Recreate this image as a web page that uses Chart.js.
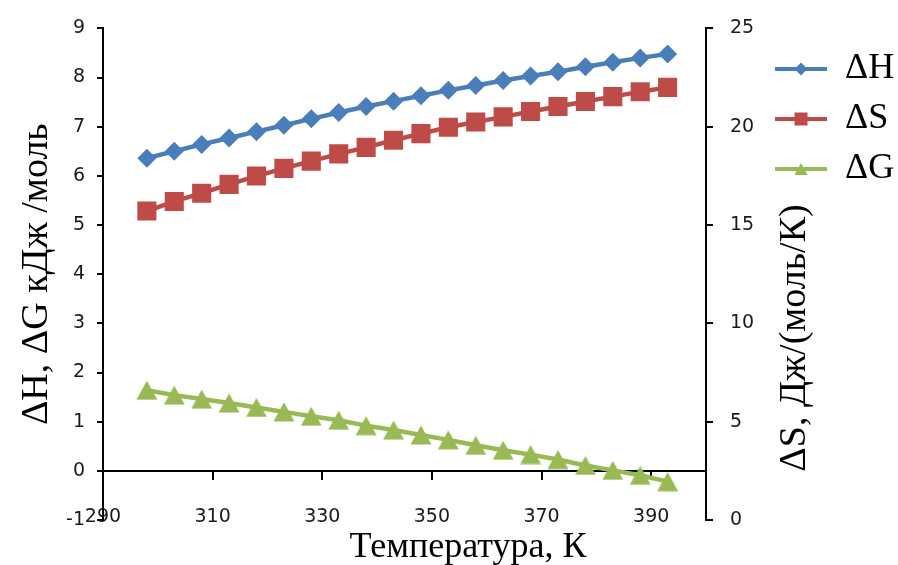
<!DOCTYPE html>
<html>
<head>
<meta charset="utf-8">
<script src="https://cdn.jsdelivr.net/npm/chart.js@4/dist/chart.umd.min.js"></script>
<style>
  html, body { margin: 0; padding: 0; background: #ffffff; }
  #wrap { width: 898px; height: 565px; }
</style>
</head>
<body>
<div id="wrap"><canvas id="c" width="898" height="565"></canvas></div>
<script>
// Temperature, K
const temperatures = [298, 303, 308, 313, 318, 323, 328, 333, 338, 343,
                      348, 353, 358, 363, 368, 373, 378, 383, 388, 393];
// Enthalpy change, kJ/mol (left axis)
const deltaH = [6.36, 6.50, 6.64, 6.77, 6.90, 7.03, 7.16, 7.29, 7.41, 7.52,
                7.63, 7.74, 7.84, 7.94, 8.03, 8.12, 8.22, 8.31, 8.40, 8.48];
// Entropy change, J/(mol K) (right axis)
const deltaS = [15.71, 16.20, 16.62, 17.07, 17.49, 17.88, 18.25, 18.62, 18.95, 19.31,
                19.65, 19.97, 20.24, 20.50, 20.77, 21.03, 21.28, 21.53, 21.78, 22.00];
// Gibbs energy change, kJ/mol (left axis)
const deltaG = [1.64, 1.54, 1.46, 1.38, 1.29, 1.20, 1.11, 1.03, 0.92, 0.83,
                0.73, 0.63, 0.52, 0.42, 0.33, 0.23, 0.11, 0.01, -0.09, -0.22];
const xTickValues = [290, 310, 330, 350, 370, 390];
const seriesNames = ['ΔH', 'ΔS', 'ΔG'];
const xTitle = 'Температура, К';
const yTitle = 'ΔH, ΔG кДж /моль';
const y2Title = 'ΔS, Дж/(моль/К)';

const BLUE = '#4A7EBB', RED = '#BE4B48', GREEN = '#98B954';
const SERIF = "'Liberation Serif', 'Times New Roman', serif";
const SANS = "'DejaVu Sans', Verdana, sans-serif";

function makeCanvas(w, h, draw) {
  const c = document.createElement('canvas');
  c.width = w; c.height = h;
  draw(c.getContext('2d'), w, h);
  return c;
}
function marker(g, kind, cx, cy, s, color) {
  g.fillStyle = color;
  g.beginPath();
  if (kind === 'diamond') {
    g.moveTo(cx, cy - s); g.lineTo(cx + s, cy); g.lineTo(cx, cy + s); g.lineTo(cx - s, cy);
  } else if (kind === 'square') {
    g.rect(cx - s, cy - s, 2 * s, 2 * s);
  } else {
    g.moveTo(cx, cy - s); g.lineTo(cx + s * 1.1, cy + s); g.lineTo(cx - s * 1.1, cy + s);
  }
  g.closePath();
  g.fill();
}
// triangle marker centred on its bounding box
const triangleMark = makeCanvas(22, 20, g => marker(g, 'triangle', 11, 10, 9.5, GREEN));

// legend swatches: line segment with the series marker in the middle
function legendIcon(kind, color, s) {
  return makeCanvas(52, 24, (g, w, h) => {
    g.strokeStyle = color; g.lineWidth = 4;
    g.beginPath(); g.moveTo(0, h / 2); g.lineTo(w, h / 2); g.stroke();
    marker(g, kind, w / 2, h / 2, s, color);
  });
}
const legendIcons = [legendIcon('diamond', BLUE, 6.5), legendIcon('square', RED, 6.5), legendIcon('triangle', GREEN, 6)];

const toPoints = arr => temperatures.map((t, i) => ({ x: t, y: arr[i] }));

const tickFont = { family: SANS, size: 19 };
const tickColor = '#1a1a1a';

const axisTitles = {
  id: 'axisTitles',
  afterDraw(chart) {
    const g = chart.ctx;
    g.save();
    g.fillStyle = '#000';
    g.textAlign = 'center';
    g.textBaseline = 'middle';
    g.font = '36px ' + SERIF;
    g.fillText(xTitle, 468, 548);
    g.font = '38px ' + SERIF;
    g.translate(795, 338);
    g.rotate(-Math.PI / 2);
    g.fillText(y2Title, 0, 0);
    g.restore();
  }
};

new Chart(document.getElementById('c'), {
  type: 'line',
  data: {
    datasets: [
      { label: seriesNames[0], data: toPoints(deltaH), yAxisID: 'y',
        borderColor: BLUE, backgroundColor: BLUE, borderWidth: 4.5,
        pointStyle: 'rectRot', pointRadius: 9.5, pointBackgroundColor: BLUE, pointBorderWidth: 0 },
      { label: seriesNames[1], data: toPoints(deltaS), yAxisID: 'y2',
        borderColor: RED, backgroundColor: RED, borderWidth: 4.5,
        pointStyle: 'rect', pointRadius: 13.5, pointBackgroundColor: RED, pointBorderWidth: 0 },
      { label: seriesNames[2], data: toPoints(deltaG), yAxisID: 'y',
        borderColor: GREEN, backgroundColor: GREEN, borderWidth: 4.5,
        pointStyle: triangleMark, pointRadius: 10, pointBackgroundColor: GREEN, pointBorderWidth: 0 }
    ]
  },
  options: {
    responsive: false,
    animation: false,
    events: [],
    layout: { padding: { top: 25, bottom: 45, left: 0, right: 0 } },
    elements: { line: { tension: 0 } },
    scales: {
      x: {
        type: 'linear', position: { y: 0 }, min: 290, max: 400,
        afterBuildTicks: s => { s.ticks = xTickValues.map(v => ({ value: v })); },
        grid: { display: true, drawOnChartArea: false, drawTicks: true, tickLength: 8, color: '#000', lineWidth: 2 },
        border: { display: true, color: '#000', width: 2 },
        ticks: { padding: 27, font: tickFont, color: tickColor, maxRotation: 0, autoSkip: false }
      },
      y: {
        position: 'left', min: -1, max: 9,
        ticks: { stepSize: 1, padding: 12, font: tickFont, color: tickColor },
        grid: { display: true, drawOnChartArea: false, drawTicks: true, tickLength: 6, color: '#000', lineWidth: 2 },
        border: { display: true, color: '#000', width: 2 },
        title: { display: true, text: yTitle, color: '#000', font: { family: SERIF, size: 38 }, padding: { top: 14, bottom: 0 } },
        afterFit: s => { s.width = 103; }
      },
      y2: {
        position: 'right', min: 0, max: 25,
        ticks: { stepSize: 5, padding: 17, font: tickFont, color: tickColor },
        grid: { display: true, drawOnChartArea: false, drawTicks: true, tickLength: 7, color: '#000', lineWidth: 2 },
        border: { display: true, color: '#000', width: 2 },
        afterFit: s => { s.width = 55; }
      }
    },
    plugins: {
      tooltip: { enabled: false },
      legend: {
        position: 'right', align: 'start', maxWidth: 137,
        title: { display: true, text: ' ', font: { size: 8, lineHeight: 1.5 }, padding: 0 },
        labels: {
          usePointStyle: true, pointStyleWidth: 52, padding: 14,
          font: { family: SERIF, size: 36 }, color: '#000',
          generateLabels: ch => ch.data.datasets.map((d, i) => ({
            text: d.label, pointStyle: legendIcons[i], fillStyle: d.borderColor,
            strokeStyle: d.borderColor, lineWidth: 0, hidden: false, datasetIndex: i, fontColor: '#000'
          }))
        }
      }
    }
  },
  plugins: [axisTitles]
});
</script>
</body>
</html>
